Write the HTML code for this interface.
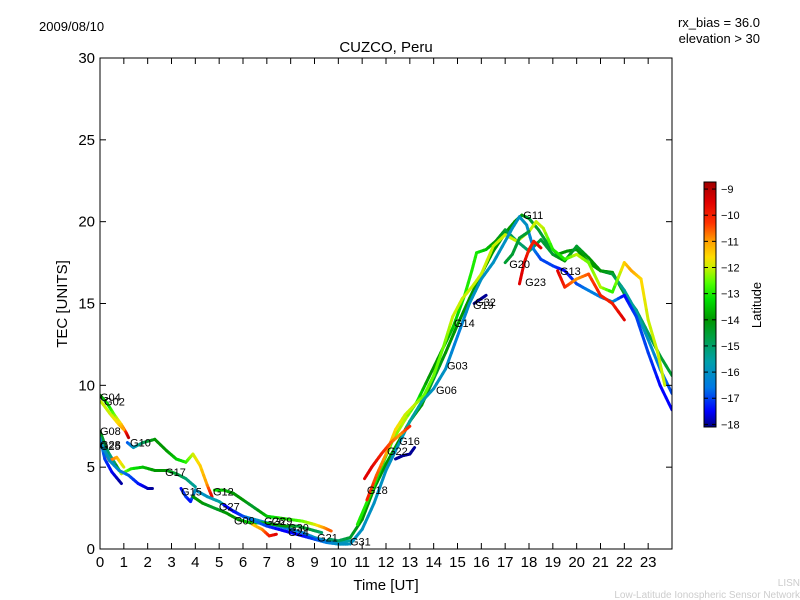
<!DOCTYPE html>
<html><head><meta charset="utf-8">
<style>
body{margin:0;background:#fff;}
svg{display:block;font-family:"Liberation Sans","DejaVu Sans",sans-serif;}
</style></head>
<body>
<svg id="chart" width="800" height="600" viewBox="0 0 800 600" xmlns="http://www.w3.org/2000/svg">
<defs>
<linearGradient id="jet" x1="0" y1="1" x2="0" y2="0"></linearGradient>
<clipPath id="plotclip"><rect x="100" y="58" width="572" height="491"/></clipPath>
</defs>
<rect x="0" y="0" width="800" height="600" fill="#fff"/>
<text x="39" y="31" font-size="13">2009/08/10</text>
<text x="386" y="52" font-size="15" text-anchor="middle">CUZCO, Peru</text>
<text x="760" y="27" font-size="13" text-anchor="end">rx_bias = 36.0</text>
<text x="760" y="43" font-size="13" text-anchor="end">elevation &gt; 30</text>
<g id="tracks" clip-path="url(#plotclip)"></g>
<g id="labels"></g>
<rect x="100" y="58" width="572" height="491" fill="none" stroke="#000" stroke-width="1"/>
<g id="axes"></g>
<text x="0" y="0" font-size="15" text-anchor="middle" transform="translate(67,304) rotate(-90)">TEC [UNITS]</text>
<text x="386" y="590" font-size="15" text-anchor="middle">Time [UT]</text>
<rect x="704" y="182" width="12" height="245" fill="url(#jet)" stroke="#000" stroke-width="1"/>
<g id="cbar"></g>
<text x="0" y="0" font-size="13" text-anchor="middle" transform="translate(761,305) rotate(-90)">Latitude</text>
<text x="800" y="586" font-size="10" fill="#ccc" text-anchor="end">LISN</text>
<text x="800" y="598" font-size="10" fill="#ccc" text-anchor="end">Low-Latitude Ionospheric Sensor Network</text>
</svg>
<script>
const trackHours = [
 [0,0.3,0.6,0.9,1.1,1.2],
 [0.05,0.4,0.8,1.0],
 [0,0.15,0.35,0.6,0.9,1.3,1.8,2.3,2.8,3.2,3.6,4.0],
 [0,0.2,0.4,0.7,1.0],
 [0,0.2,0.5,0.9],
 [0.1,0.4,0.8,1.2,1.6,2.0,2.2],
 [1.15,1.4,1.8,2.3,2.8,3.2,3.6,3.9,4.2,4.5,4.7],
 [3.4,3.6,3.8,4.0,4.5,5.0,5.5,6.0,6.5,7.0,7.5,8.0,8.5,9.0,9.5,10.0,10.5],
 [3.9,4.3,4.8,5.3,5.8,6.3,6.8,7.3,7.8,8.3,8.8,9.3],
 [4.8,5.2,5.6,6.0,6.5,7.0,7.5,8.0,8.5,9.0,9.4,9.7],
 [5.2,5.6,6.0,6.5,7.0,7.5,8.0,8.5,9.0,9.5,10.0,10.4],
 [6.4,6.8,7.1,7.4],
 [9.6,10.0,10.5,11.0,11.5,12.0,12.5,13.0,13.5,14.0,14.5,15.0,15.5,16.0,16.5,17.0,17.4,17.7,18.0,18.4,18.8,19.2,19.6,20.0,20.5,21.0,21.5,22.0,22.5,23.0,23.5,24.0],
 [10.8,11.3,11.8,12.3,12.8,13.3,13.8,14.3,14.8,15.3,15.6,15.8,16.2,16.6,17.0,17.5,18.0,18.5,19.0,19.5,20.0,20.5,21.0,21.5,22.0,22.5,23.0,23.5,24.0],
 [11.2,11.6,12.0,12.4,12.8,13.2,13.6,14.0,14.4,14.8,15.2,15.6,16.0,16.5,17.0,17.5,18.0,18.3,18.6,19.0,19.5,20.0,20.5,21.0,21.5,22.0,22.3,22.7,23.0,23.4,23.7],
 [10.5,11.0,11.5,12.0,12.5,13.0,13.5,14.0,14.5,15.0,15.5,16.0,16.5,17.0,17.3,17.6,17.9,18.2,18.5,19.0,19.5,20.0,20.5,21.0,21.5,22.0,22.5,23.0,23.5,24.0],
 [11.1,11.4,11.8,12.2,12.6,13.0],
 [12.4,12.7,13.0,13.2],
 [17.6,17.8,18.0,18.2,18.5],
 [19.2,19.5,20.0,20.5,21.0,21.5,22.0],
 [15.7,16.0,16.2],
 [17.0,17.3,17.6,18.0]
];
const trackTec = [
 [9.4,8.9,8.2,7.6,7.1,6.8],
 [9.0,8.3,7.6,7.3],
 [7.2,6.6,5.9,5.3,4.6,4.9,5.0,4.8,4.8,4.6,4.3,3.8],
 [6.6,5.9,5.4,5.6,5.0],
 [6.8,5.5,4.7,4.0],
 [6.3,5.4,4.8,4.5,4.0,3.7,3.7],
 [6.5,6.2,6.5,6.7,6.0,5.5,5.3,5.8,5.1,3.9,3.2],
 [3.7,3.2,2.9,3.6,3.2,2.9,2.4,2.0,1.8,1.6,1.4,1.2,1.0,0.7,0.5,0.4,0.5],
 [3.2,2.8,2.5,2.2,1.8,1.6,1.6,1.5,1.4,1.4,1.2,1.0],
 [3.6,3.6,3.4,3.0,2.5,2.0,1.9,1.8,1.7,1.5,1.3,1.1],
 [2.7,2.3,2.0,1.7,1.4,1.2,1.0,0.8,0.6,0.4,0.3,0.3],
 [1.5,1.2,0.8,0.9],
 [0.6,0.5,0.7,1.8,3.7,5.2,6.5,7.8,8.8,10.4,12.0,13.7,15.3,16.8,18.2,19.3,20.0,20.4,20.2,19.5,18.6,18.0,18.2,18.3,17.5,17.0,16.9,15.6,14.6,13.2,11.8,10.6],
 [1.5,3.2,5.0,6.7,7.9,9.0,10.5,12.0,13.5,15.5,17.0,18.1,18.3,18.8,19.5,18.8,18.2,18.9,18.0,17.6,18.5,17.8,17.0,16.8,15.8,14.5,12.8,11.0,9.5],
 [3.0,4.5,5.8,7.3,8.2,8.8,9.4,10.6,12.3,14.2,15.3,16.0,16.8,18.5,19.2,18.8,19.4,20.0,19.6,18.3,17.7,18.0,17.5,16.0,15.7,17.5,17.0,16.5,14.0,12.0,10.0],
 [0.3,1.2,2.8,4.8,6.3,7.8,9.0,9.8,11.0,13.0,15.0,16.5,17.5,18.8,19.6,20.3,19.8,18.3,17.7,17.3,17.0,16.2,15.8,15.4,15.1,15.5,14.2,12.0,10.0,8.5],
 [4.3,5.0,5.8,6.5,7.0,7.5],
 [5.5,5.7,5.8,6.2],
 [16.2,17.5,18.3,18.8,18.4],
 [17.0,16.0,16.5,16.8,15.5,15.0,14.0],
 [15.0,15.3,15.5],
 [17.5,18.0,19.0,19.4]
];
const trackLat = [
 [-14,-13.5,-12.5,-11.5,-10,-9],
 [-12,-12,-11.5,-11],
 [-14,-14.5,-15,-15.5,-12,-13,-13.5,-14,-14,-14.5,-15,-15.5],
 [-10,-9.5,-10.5,-11,-12],
 [-16,-17,-17.5,-18],
 [-16,-16,-16.3,-16.8,-17.3,-17.8,-18],
 [-17,-16,-15,-14,-14,-13.5,-13,-12,-11.5,-11,-9.5],
 [-17.5,-17,-17.5,-16,-16,-15.5,-15.5,-15.5,-16,-16,-16,-16.5,-16.5,-16,-16,-16,-15.5],
 [-14,-14,-14.5,-14,-14,-13.5,-13.5,-14,-14,-14.5,-14.5,-15],
 [-13,-13.5,-14,-14,-14.5,-13.5,-13,-13,-12.5,-12,-11,-10.5],
 [-17.5,-17.5,-17,-16.5,-17,-17.5,-17.5,-17.5,-17,-16.5,-16,-16],
 [-11.5,-11,-10,-9.5],
 [-15,-15,-14.5,-14,-14,-14,-14,-14,-14,-14.5,-14,-14,-14,-14,-14,-14,-14,-14,-14.5,-14.5,-14.5,-14,-14,-14,-14,-14,-14,-14.5,-15,-15,-14.5,-14.5],
 [-13,-13,-13,-12.5,-12,-13,-14,-14,-13.5,-13,-13,-13,-13.5,-14,-14.5,-15,-15,-14.5,-14.5,-14,-14.5,-14,-14,-14.5,-15.5,-15.5,-16,-16.5,-17],
 [-10,-10.5,-11,-11.5,-12,-12,-12.5,-12.5,-12.5,-12,-12,-12,-12,-12,-12,-12,-12,-12,-12,-13,-13,-12,-12.5,-12,-13,-11.5,-11,-11.5,-12,-12,-12],
 [-16,-16,-16,-16,-16,-15.5,-15.5,-16,-16,-16.5,-16,-16,-16,-16,-16,-16,-16,-16.5,-17,-17,-17.5,-17,-16.5,-16.5,-16,-17.5,-17,-17,-17.5,-17.5],
 [-9.5,-9.5,-10,-10.5,-11,-10],
 [-18,-18,-18,-18],
 [-9.5,-9.5,-10,-10,-9.5],
 [-9.5,-10,-11,-10.5,-10,-10,-9.5],
 [-18,-18,-18],
 [-14.5,-14.5,-14.5,-14.5]
];
const satNames = ["G04","G02","G08","G25","G28","G10","G17","G15","G12","G27","G09","G26","G29","G30","G24","G21","G31","G18","G22","G16","G06","G03","G14","G32","G19","G20","G11","G23","G13"];
const satLabelHour = [0.0,0.17,0.0,0.0,0.0,1.26,2.73,3.4,4.74,4.99,5.62,6.88,7.2,7.89,7.89,9.11,10.49,11.2,12.04,12.55,14.1,14.56,14.85,15.74,15.65,17.17,17.76,17.84,19.3];
const satLabelTec = [9.3,9.0,7.2,6.3,6.4,6.5,4.7,3.5,3.5,2.6,1.75,1.7,1.7,1.3,1.05,0.7,0.45,3.6,6.0,6.6,9.7,11.2,13.8,15.1,14.9,17.4,20.4,16.3,17.0];
const yTicks = [0,5,10,15,20,25,30];
const xTicks = [0,1,2,3,4,5,6,7,8,9,10,11,12,13,14,15,16,17,18,19,20,21,22,23];
const cbarTicks = [-9,-10,-11,-12,-13,-14,-15,-16,-17,-18];

const NS="http://www.w3.org/2000/svg";
const X0=100,X1=672,Y0=549,Y1=58;
function xs(h){return X0+h*(X1-X0)/24;}
function ys(v){return Y0-v*(Y0-Y1)/30;}
const LMIN=-18.1,LMAX=-8.73;
function cy(l){return 427-(l-LMIN)/(LMAX-LMIN)*245;}
const cmap=[[-18.1,[0,0,128]],[-17.5,[0,0,255]],[-16.6,[0,120,230]],[-15.6,[0,160,170]],[-14.6,[0,160,60]],[-14.0,[0,150,0]],[-13.2,[0,225,0]],[-12.6,[80,255,0]],[-12.0,[200,240,0]],[-11.6,[255,220,0]],[-11.0,[255,160,0]],[-10.3,[255,50,0]],[-9.5,[225,0,0]],[-8.73,[160,0,0]]];
function latColor(l){
  if(l<=cmap[0][0])return `rgb(${cmap[0][1].join(',')})`;
  for(let i=0;i<cmap.length-1;i++){
    const a=cmap[i],b=cmap[i+1];
    if(l<=b[0]){const t=(l-a[0])/(b[0]-a[0]);
      return `rgb(${a[1].map((c,k)=>Math.round(c+(b[1][k]-c)*t)).join(',')})`;}
  }
  return `rgb(${cmap[cmap.length-1][1].join(',')})`;
}
const grad=document.getElementById('jet');
cmap.forEach(s=>{
  const st=document.createElementNS(NS,'stop');
  st.setAttribute('offset',(s[0]-LMIN)/(LMAX-LMIN));
  st.setAttribute('stop-color',`rgb(${s[1].join(',')})`);
  grad.appendChild(st);
});

const tg=document.getElementById('tracks');
trackHours.forEach((hs,ti)=>{
  const g=document.createElementNS(NS,'g');
  
  
  const v=trackTec[ti],la=trackLat[ti];
  for(let i=0;i<hs.length-1;i++){
    const n=4;
    for(let k=0;k<n;k++){
      const a=k/n,b=(k+1)/n;
      const ln=document.createElementNS(NS,'line');
      ln.setAttribute('x1',xs(hs[i]+(hs[i+1]-hs[i])*a));
      ln.setAttribute('y1',ys(v[i]+(v[i+1]-v[i])*a));
      ln.setAttribute('x2',xs(hs[i]+(hs[i+1]-hs[i])*b));
      ln.setAttribute('y2',ys(v[i]+(v[i+1]-v[i])*b));
      ln.setAttribute('stroke',latColor(la[i]+(la[i+1]-la[i])*(a+b)/2));
      ln.setAttribute('stroke-width','3');
      ln.setAttribute('stroke-linecap','round');
      g.appendChild(ln);
    }
  }
  tg.appendChild(g);
});

const lg=document.getElementById('labels');
satNames.forEach((n,i)=>{
  const t=document.createElementNS(NS,'text');
  
  
  t.setAttribute('x',xs(satLabelHour[i]));
  t.setAttribute('y',ys(satLabelTec[i])+4);
  t.setAttribute('font-size','11');
  t.textContent=n;
  lg.appendChild(t);
});

const ag=document.getElementById('axes');
function line(p,x1,y1,x2,y2,name){
  const l=document.createElementNS(NS,'line');
  
  
  l.setAttribute('x1',x1);l.setAttribute('y1',y1);l.setAttribute('x2',x2);l.setAttribute('y2',y2);
  l.setAttribute('stroke','#000');l.setAttribute('stroke-width','1');
  p.appendChild(l);
}
function text(p,x,y,s,anchor,size,name){
  const t=document.createElementNS(NS,'text');
  
  
  t.setAttribute('x',x);t.setAttribute('y',y);
  t.setAttribute('text-anchor',anchor);t.setAttribute('font-size',size);
  t.textContent=s;p.appendChild(t);
}
yTicks.forEach(v=>{
  const y=ys(v);
  line(ag,X0,y,X0+6,y,'y-tick');
  line(ag,X1,y,X1-6,y,'y-tick-right');
  text(ag,X0-5,y+5,String(v),'end','15','y-tick-label');
});
xTicks.forEach(h=>{
  const x=xs(h);
  line(ag,x,Y0,x,Y0-6,'x-tick');
  line(ag,x,Y1,x,Y1+6,'x-tick-top');
  text(ag,x,Y0+18,String(h),'middle','15','x-tick-label');
});
const cg=document.getElementById('cbar');
cbarTicks.forEach(l=>{
  const y=cy(l);
  line(cg,704,y,708,y,'colorbar-tick');
  line(cg,716,y,712,y,'colorbar-tick-right');
  text(cg,721,y+4,'\u2212'+Math.abs(l),'start','11','colorbar-tick-label');
});
</script>
</body></html>
